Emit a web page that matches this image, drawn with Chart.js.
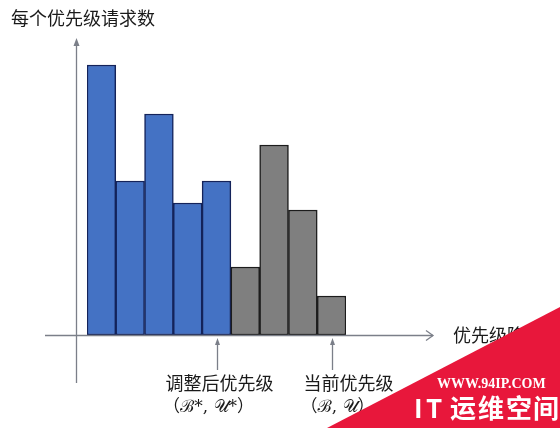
<!DOCTYPE html>
<html>
<head>
<meta charset="utf-8">
<script src="https://cdn.jsdelivr.net/npm/chart.js@4.4.1/dist/chart.umd.min.js"></script>
<style>
  html, body { margin: 0; padding: 0; background: #fff; }
  canvas { display: block; }
</style>
</head>
<body>
<canvas id="myChart" width="560" height="428"></canvas>
<script>
    // Chart data
    const priorities = ['1', '2', '3', '4', '5', '6', '7', '8', '9'];
    const requestCounts = [270, 154, 221, 132, 154, 68, 190, 125, 39];
    const adjustedCount = 5; // first bars are the adjusted priorities (blue)

    const yTitle = '每个优先级请求数';
    const xTitle = '优先级降低';
    const markerIndex = [4, 8];
    const markerLines = [
        ['调整后优先级', '（ℬ*, 𝒰*）'],
        ['当前优先级', '（ℬ, 𝒰）']
    ];

    const cjk = '"Noto Sans CJK SC", "Noto Sans", sans-serif';
    const axisColor = '#7b7f89';

    function arrowUp(ctx, x, y, w, h) {
        ctx.beginPath();
        ctx.moveTo(x, y);
        ctx.lineTo(x - w / 2, y + h);
        ctx.lineTo(x + w / 2, y + h);
        ctx.closePath();
        ctx.fill();
    }

    // Axes, arrows, labels and the site stamp
    const decor = {
        id: 'decor',
        afterDatasetsDraw(chart) {
            const ctx = chart.ctx;
            const area = chart.chartArea;
            const xs = chart.scales.x;
            const base = chart.scales.y.getPixelForValue(0);
            ctx.save();

            // y axis with arrow
            const yx = area.left - 10.5;
            ctx.strokeStyle = axisColor;
            ctx.fillStyle = axisColor;
            ctx.lineWidth = 1.3;
            ctx.beginPath();
            ctx.moveTo(yx, 383);
            ctx.lineTo(yx, 44);
            ctx.stroke();
            arrowUp(ctx, yx, 38, 6, 8);

            // x axis with open arrow
            ctx.beginPath();
            ctx.moveTo(45, base + 0.5);
            ctx.lineTo(433, base + 0.5);
            ctx.stroke();
            ctx.beginPath();
            ctx.moveTo(426, base - 4.5);
            ctx.lineTo(433, base + 0.5);
            ctx.lineTo(426, base + 5.5);
            ctx.stroke();

            // titles
            ctx.fillStyle = '#1a1a1a';
            ctx.font = '18px ' + cjk;
            ctx.textBaseline = 'middle';
            ctx.textAlign = 'left';
            ctx.fillText(yTitle, 11, 18);
            ctx.fillText(xTitle, 453, base);

            // markers under the bars
            const shift = [2, 16];
            markerIndex.forEach((idx, i) => {
                const mx = Math.round(xs.getPixelForValue(idx)) + 0.5;
                ctx.strokeStyle = axisColor;
                ctx.fillStyle = axisColor;
                ctx.beginPath();
                ctx.moveTo(mx, 370);
                ctx.lineTo(mx, 344);
                ctx.stroke();
                arrowUp(ctx, mx, 338, 5, 7);

                ctx.fillStyle = '#1a1a1a';
                ctx.textAlign = 'center';
                ctx.font = '18px ' + cjk;
                ctx.fillText(markerLines[i][0], mx + shift[i], 383);
                ctx.font = '17px "DejaVu Serif", ' + cjk;
                ctx.fillText(markerLines[i][1], mx + shift[i] - 11, 408);
            });

            // red corner stamp
            ctx.fillStyle = '#e8173b';
            ctx.beginPath();
            ctx.moveTo(327, 428);
            ctx.lineTo(560, 307);
            ctx.lineTo(560, 428);
            ctx.closePath();
            ctx.fill();

            ctx.fillStyle = '#ffffff';
            ctx.textAlign = 'left';
            ctx.font = 'bold 14px "Liberation Serif", serif';
            ctx.fillText('WWW.94IP.COM', 437, 384);
            ctx.font = 'bold 26px ' + cjk;
            const stamp = ['I', 'T', '运', '维', '空', '间'];
            const sx = [414, 426, 450, 478, 506, 533];
            stamp.forEach((c, i) => ctx.fillText(c, sx[i], 408));

            ctx.restore();
        }
    };

    const ctx = document.getElementById('myChart').getContext('2d');
    const chart = new Chart(ctx, {
        type: 'bar',
        data: {
            labels: priorities,
            datasets: [{
                label: yTitle,
                data: requestCounts,
                backgroundColor: requestCounts.map((v, i) => i < adjustedCount ? '#4472c4' : '#7f7f7f'),
                borderColor: requestCounts.map((v, i) => i < adjustedCount ? '#14235a' : '#1c1c1c'),
                borderWidth: 1.5,
                borderSkipped: false,
                barPercentage: 1,
                categoryPercentage: 1
            }]
        },
        options: {
            responsive: false,
            animation: false,
            layout: { padding: { left: 87, right: 214, top: 35, bottom: 93 } },
            plugins: {
                legend: { display: false },
                tooltip: { enabled: false }
            },
            scales: {
                x: { display: false },
                y: { display: false, min: 0, max: 300 }
            }
        },
        plugins: [decor]
    });
</script>
</body>
</html>
